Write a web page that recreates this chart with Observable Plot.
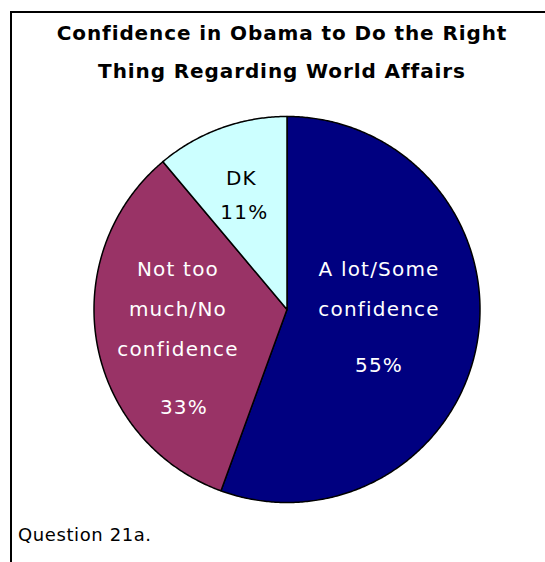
<!DOCTYPE html>
<html>
<head>
<meta charset="utf-8">
<script src="https://cdn.jsdelivr.net/npm/d3@7"></script>
<script src="https://cdn.jsdelivr.net/npm/@observablehq/plot@0.6"></script>
<style>
  html, body { margin: 0; padding: 0; background: #fff; }
  #wrap { position: relative; width: 545px; height: 562px; overflow: hidden; font-family: "DejaVu Sans", sans-serif; }
  #frame { position: absolute; left: 10px; top: 11px; width: 560px; height: 580px; border: 2px solid #000; box-sizing: border-box; }
  #title { position: absolute; left: 0; width: 564px; top: 14px; text-align: center; font-weight: bold; font-size: 20px; letter-spacing: 0.9px; line-height: 38px; color: #000; }
  #caption { position: absolute; left: 18px; top: 524px; font-size: 18px; letter-spacing: 0.6px; color: #000; }
  #chart { position: absolute; left: 0; top: 0; }
  #chart svg text { letter-spacing: 1.2px; }
</style>
</head>
<body>
<div id="wrap">
  <div id="frame"></div>
  <div id="chart"></div>
  <div id="title">Confidence in Obama to Do the Right<br>Thing Regarding World Affairs</div>
  <div id="caption">Question 21a.</div>
</div>
<script>
const categories = ["A lot/Some confidence", "Not too much/No confidence", "DK"];
const labelLines = ["A lot/Some\nconfidence", "Not too\nmuch/No\nconfidence", "DK"];
const values = [55, 33, 11];
const pctLabels = ["55%", "33%", "11%"];
const colors = ["#000080", "#993366", "#CCFFFF"];
const textColors = ["#ffffff", "#ffffff", "#000000"];

const arcs = d3.pie().sort(null).value(d => d)(values);

// polygon points for each slice (angle measured clockwise from 12 o'clock)
const polys = [];
arcs.forEach((a, i) => {
  const pts = [{x: 0, y: 0}];
  const steps = Math.max(2, Math.ceil((a.endAngle - a.startAngle) / (Math.PI / 360)));
  for (let k = 0; k <= steps; k++) {
    const t = a.startAngle + (a.endAngle - a.startAngle) * k / steps;
    pts.push({x: Math.sin(t), y: Math.cos(t)});
  }
  pts.push({x: 0, y: 0});
  pts.forEach(p => polys.push({...p, cat: categories[i], color: colors[i]}));
});

// label anchors
const labelRadius = [0.5, 0.5, 0.6];
const labelOffsets = [
  {ndx: -3, ndy: -43, pdx: -3, pdy: 39},
  {ndx: -14, ndy: -23, pdx: -8, pdy: 81},
  {ndx: -6, ndy: -28, pdx: -3, pdy: 12}
];
const labels = arcs.map((a, i) => {
  const m = (a.startAngle + a.endAngle) / 2;
  return {x: labelRadius[i] * Math.sin(m), y: labelRadius[i] * Math.cos(m), name: labelLines[i], pct: pctLabels[i], tc: textColors[i], i};
});

const cx = 286.5, cy = 309, r = 193;
const marks = [
  Plot.line(polys, {x: "x", y: "y", z: "cat", fill: "color", stroke: "#000", strokeWidth: 1.5, curve: "linear"})
];
labels.forEach((l, i) => {
  const o = labelOffsets[i];
  marks.push(Plot.text([l], {x: "x", y: "y", text: "name", fill: l.tc, dx: o.ndx, dy: o.ndy, fontSize: 20, lineHeight: 2, lineAnchor: "middle", textAnchor: "middle", fontFamily: "DejaVu Sans"}));
  marks.push(Plot.text([l], {x: "x", y: "y", text: "pct", fill: l.tc, dx: o.pdx, dy: o.pdy, fontSize: 20, lineAnchor: "middle", textAnchor: "middle", fontFamily: "DejaVu Sans"}));
});

const chart = Plot.plot({
  width: 545,
  height: 562,
  x: {domain: [-1, 1], range: [cx - r, cx + r], axis: null},
  y: {domain: [-1, 1], range: [cy + r, cy - r], axis: null},
  color: {type: "identity"},
  style: {background: "transparent", overflow: "visible"},
  marks
});
document.getElementById("chart").appendChild(chart);
</script>
</body>
</html>
